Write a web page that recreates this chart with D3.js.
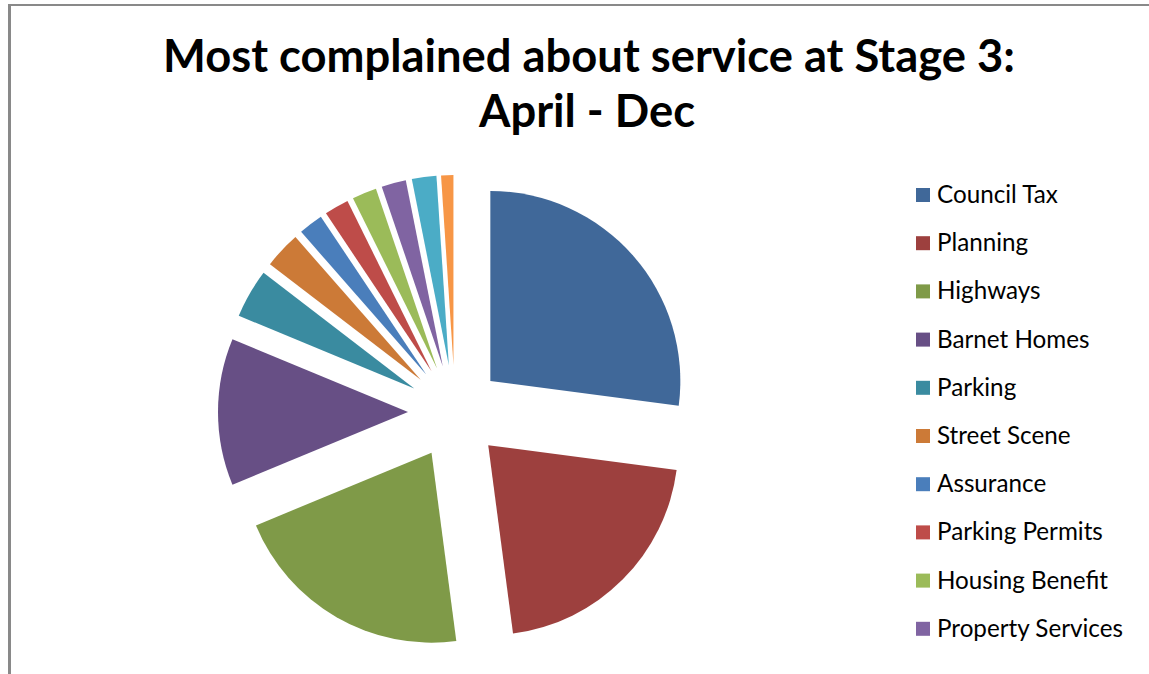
<!DOCTYPE html>
<html>
<head>
<meta charset="utf-8">
<script src="https://cdn.jsdelivr.net/npm/d3@7"></script>
<style>
  html, body { margin: 0; padding: 0; background: #fff; }
  svg { display: block; }
</style>
</head>
<body>
<svg id="chart" width="1149" height="674"></svg>
<script>
// Stage 3 complaints by service, April - Dec (counts)
const services = [
  "Council Tax", "Planning", "Highways", "Barnet Homes", "Parking",
  "Street Scene", "Assurance", "Parking Permits", "Housing Benefit",
  "Property Services", "Other (a)", "Other (b)"
];
const complaints = [26, 20, 20, 12, 4, 3, 2, 2, 2, 2, 2, 1];
const sliceColors = [
  "#406899", "#9d403e", "#7f9a48", "#674f85", "#3a8ba0", "#cc7a37",
  "#4a7ebb", "#be4c49", "#9bbb59", "#8064a2", "#4bacc6", "#f79646"
];
const titleLines = ["Most complained about service at Stage 3:", "April - Dec"];
// the legend box only has room for the first ten services
const legendCount = 10;

const svg = d3.select("#chart");
const font = "Lato, 'Open Sans', 'DejaVu Sans', sans-serif";

// frame of the chart area
svg.append("line").attr("x1", 8).attr("x2", 1149).attr("y1", 5).attr("y2", 5)
  .attr("stroke", "#898989").attr("stroke-width", 2);
svg.append("line").attr("x1", 9.5).attr("x2", 9.5).attr("y1", 4).attr("y2", 674)
  .attr("stroke", "#898989").attr("stroke-width", 3);

// helper: size a text node so that it spans a given width
function fitWidth(sel, width, startSize) {
  sel.attr("font-size", startSize);
  const w = sel.node().getComputedTextLength();
  sel.attr("font-size", startSize * width / w);
}

// title
const t1 = svg.append("text").attr("x", 589).attr("y", 72)
  .attr("text-anchor", "middle").attr("font-family", font).attr("font-weight", "bold")
  .attr("fill", "#000").text(titleLines[0]);
fitWidth(t1, 852, 40);
const t2 = svg.append("text").attr("x", 587).attr("y", 127)
  .attr("text-anchor", "middle").attr("font-family", font).attr("font-weight", "bold")
  .attr("fill", "#000").text(titleLines[1]);
t2.attr("font-size", t1.attr("font-size"));

// exploded pie
const cx = 455, cy = 412, radius = 190, explode = 47;
const pie = d3.pie().sort(null).value(d => d.value);
const arc = d3.arc().innerRadius(0).outerRadius(radius);
const data = services.map((s, i) => ({ name: s, value: complaints[i], color: sliceColors[i] }));

const pieG = svg.append("g").attr("transform", `translate(${cx},${cy})`);
pieG.selectAll("path").data(pie(data)).join("path")
  .attr("d", arc)
  .attr("fill", d => d.data.color)
  .attr("transform", d => {
    const mid = (d.startAngle + d.endAngle) / 2;
    return `translate(${Math.sin(mid) * explode},${-Math.cos(mid) * explode})`;
  });

// legend
const legendX = 916, legendY0 = 195, legendStep = 48.2;
const legendY = d3.scaleLinear().domain([0, 1]).range([legendY0, legendY0 + legendStep]);
const legend = svg.append("g");
const items = legend.selectAll("g").data(data.slice(0, legendCount)).join("g")
  .attr("transform", (d, i) => `translate(${legendX},${legendY(i)})`);
items.append("rect").attr("x", 0).attr("y", -7).attr("width", 14).attr("height", 14)
  .attr("fill", d => d.color);
const labels = items.append("text").attr("x", 21).attr("y", 8)
  .attr("font-family", font).attr("fill", "#000").text(d => d.name);
// scale legend text so the longest label spans its measured width
const probe = legend.append("text").attr("font-family", font).text(services[9]);
fitWidth(probe, 186, 20);
labels.attr("font-size", probe.attr("font-size"));
probe.remove();
</script>
</body>
</html>
